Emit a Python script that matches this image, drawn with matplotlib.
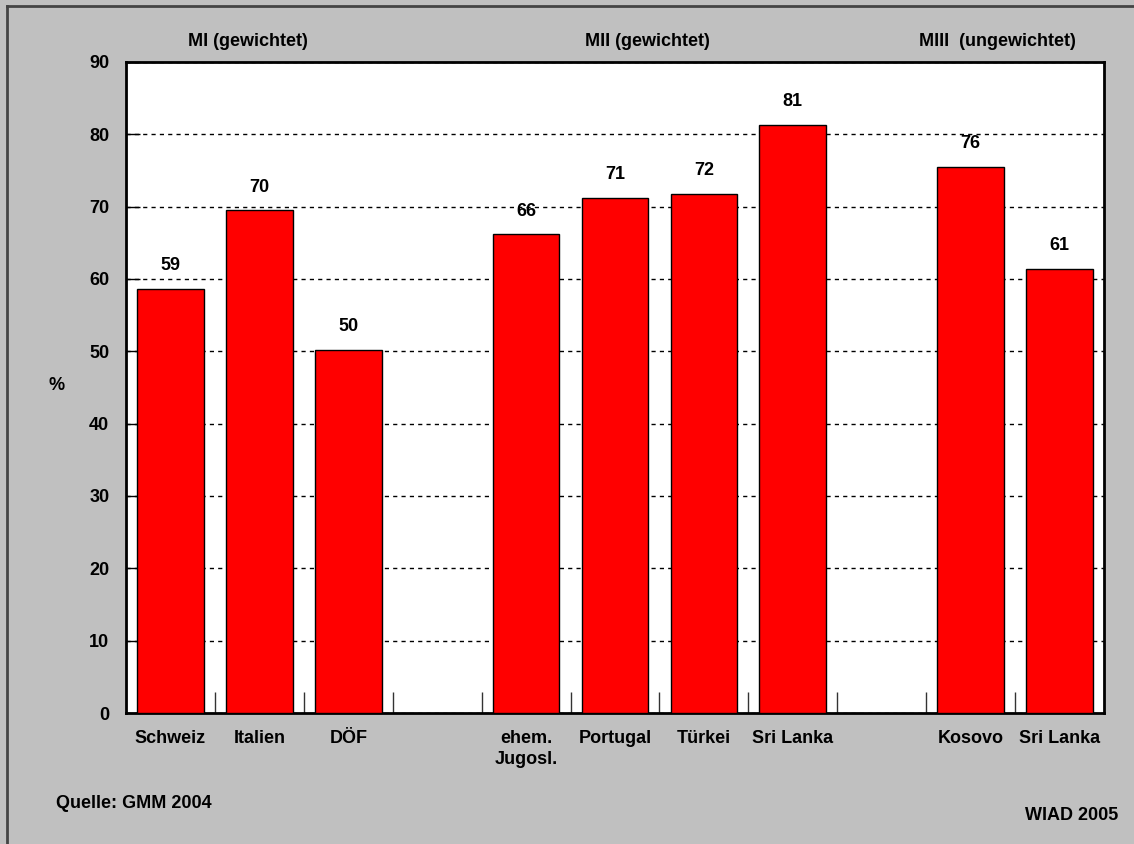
import numpy as np
import matplotlib.pyplot as plt
from matplotlib.lines import Line2D
from matplotlib.transforms import blended_transform_factory

plt.rcParams['font.family'] = ['Liberation Sans', 'DejaVu Sans']
plt.rcParams['font.weight'] = 'bold'

categories = ["Schweiz", "Italien", "DÖF", "", "ehem.\nJugosl.", "Portugal", "Türkei",
              "Sri Lanka", "", "Kosovo", "Sri Lanka"]
values = [58.6, 69.5, 50.2, np.nan, 66.2, 71.2, 71.8, 81.3, np.nan, 75.5, 61.4]
group_labels = ["MI (gewichtet)", "MII (gewichtet)", "MIII  (ungewichtet)"]
group_centers = [0.87, 5.36, 9.30]

FS = 13

fig = plt.figure(figsize=(11.34, 8.44), dpi=100, facecolor='#C0C0C0')
ax = fig.add_axes([126 / 1134, 1 - 713 / 844, 978 / 1134, 651 / 844])
ax.set_facecolor('white')

x = np.arange(len(categories))
ax.set_xlim(-0.5, len(categories) - 0.5)
ax.set_ylim(0, 90)
ax.set_yticks(range(0, 91, 10))
ax.yaxis.grid(True, color='black', linestyle=(0, (3, 3)), linewidth=1)
ax.set_axisbelow(True)

ax.bar(x, values, width=0.75, color='#FF0000', edgecolor='black', linewidth=1, zorder=3)
for xi, v in zip(x, values):
    if not np.isnan(v):
        ax.text(xi, v + 3.2, f"{v:.0f}", ha='center', va='center', fontsize=FS, fontweight='bold')

ax.set_xticks(x)
ax.set_xticklabels(categories, fontsize=FS, fontweight='bold', linespacing=1.3)
ax.tick_params(axis='x', length=0, pad=12)
ax.set_xticks(np.arange(0.5, len(categories) - 0.5, 1), minor=True)
ax.tick_params(axis='x', which='minor', direction='in', length=15, width=1, color='#333333')
ax.tick_params(axis='y', direction='in', length=10, width=1, labelsize=FS, pad=12)
for lab in ax.get_yticklabels():
    lab.set_fontweight('bold')

for s in ax.spines.values():
    s.set_linewidth(2)
    s.set_color('black')

head_tf = blended_transform_factory(ax.transData, fig.transFigure)
for lab, c in zip(group_labels, group_centers):
    ax.text(c, 1 - 41 / 844, lab, transform=head_tf, ha='center', va='center',
            fontsize=FS, fontweight='bold')

fig.text(57 / 1134, 1 - 385 / 844, "%", ha='center', va='center', fontsize=FS, fontweight='bold')
fig.text(56 / 1134, 1 - 804 / 844, "Quelle: GMM 2004", ha='left', va='center', fontsize=FS, fontweight='bold')
fig.text(1118 / 1134, 1 - 815 / 844, "WIAD 2005", ha='right', va='center', fontsize=FS, fontweight='bold')

fig.add_artist(Line2D([7 / 1134, 1], [1 - 6 / 844, 1 - 6 / 844], transform=fig.transFigure, color='#444444', linewidth=2))
fig.add_artist(Line2D([7 / 1134, 7 / 1134], [0, 1 - 6 / 844], transform=fig.transFigure, color='#444444', linewidth=2))

fig.savefig("out.png", dpi=100, facecolor=fig.get_facecolor())
